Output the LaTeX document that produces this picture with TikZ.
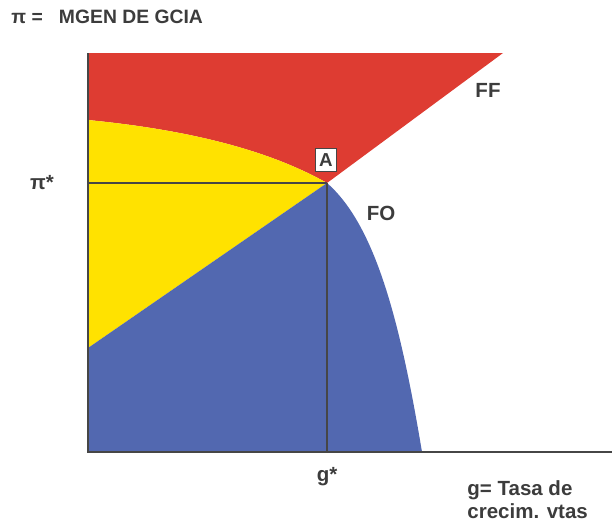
\documentclass[tikz,border=0pt]{standalone}
\usepackage{fontspec}
\setmainfont{Liberation Sans}
\usetikzlibrary{positioning}
\definecolor{zonered}{RGB}{222, 60, 50}
\definecolor{zoneyellow}{RGB}{255, 226, 0}
\definecolor{zoneblue}{RGB}{82, 104, 176}
\definecolor{axisgray}{RGB}{70, 70, 70}
\definecolor{textgray}{RGB}{60, 60, 60}

\begin{document}
\begin{tikzpicture}[
    x=0.03cm, y=-0.03cm,
    lbl/.style={font=\bfseries\fontsize{17.5}{19.5}\selectfont, text=textgray, inner sep=1pt, align=left},
    tag/.style={draw=axisgray, thin, fill=white, inner sep=3pt, minimum height=0.7cm, font=\bfseries\fontsize{16}{18}\selectfont, text=textgray},
    axisline/.style={draw=axisgray, line width=2.2pt},
    guide/.style={draw=axisgray, line width=0.9pt}
]
\useasboundingbox (0,0) rectangle (614,521);
\coordinate (O)    at (88,452);
\coordinate (ytop) at (88,53);
\coordinate (xend) at (612,452);
\coordinate (A)    at (327,183);
\coordinate (ffend) at (503,53);
\coordinate (yl)   at (88,120);
\coordinate (bl)   at (88,348);
\coordinate (foend) at (422,452);
% zones
\fill[zonered] (ytop) -- (ffend) -- (A) .. controls (260,145) and (170,128) .. (yl) -- cycle;
\fill[zoneyellow] (yl) .. controls (170,128) and (260,145) .. (A) -- (bl) -- cycle;
\fill[zoneblue] (bl) -- (A) .. controls (375,225) and (400,320) .. (foend) -- (O) -- cycle;
% guides and axes
\draw[guide] (A) -- (A -| O);
\draw[guide] (A) -- (A |- O);
\draw[axisline] (ytop) -- (O) -- (xend);
% labels
\node[lbl, anchor=west, font=\bfseries\fontsize{16.5}{18}\selectfont] (title) at (10,17) {π =\;\; MGEN DE GCIA};
\node[lbl] (pistar) at (42,183) {π*};
\node[tag] (atag) at (326,160) {A};
\node[lbl] (ff) at (488,90) {FF};
\node[lbl] (fo) at (381,213) {FO};
\node[lbl] (gstar) at (327,477) {g*};
\node[lbl, anchor=north west] (gaxis) at (466,479) {g= Tasa de\\crecim. vtas};
\end{tikzpicture}
\end{document}
